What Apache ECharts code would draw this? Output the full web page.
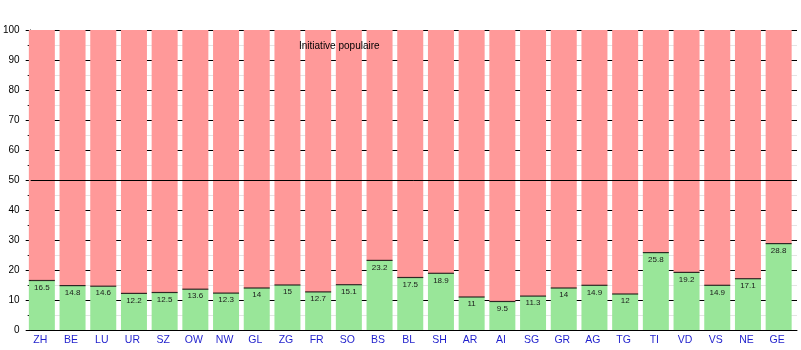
<!DOCTYPE html>
<html>
<head>
<meta charset="utf-8">
<script src="https://cdn.jsdelivr.net/npm/echarts@6/dist/echarts.min.js"></script>
<style>
  html, body { margin: 0; padding: 0; background: #fff; }
  #chart { width: 801px; height: 350px; }
</style>
</head>
<body>
<div id="chart"></div>
<script>
// Cantons and the "yes" share (%) for the popular initiative
const cantons = ['ZH','BE','LU','UR','SZ','OW','NW','GL','ZG','FR','SO','BS','BL','SH','AR','AI','SG','GR','AG','TG','TI','VD','VS','NE','GE'];
const yesShare = [16.5,14.8,14.6,12.2,12.5,13.6,12.3,14,15,12.7,15.1,23.2,17.5,18.9,11,9.5,11.3,14,14.9,12,25.8,19.2,14.9,17.1,28.8];
const noShare = yesShare.map(v => +(100 - v).toFixed(1));
const yTicks = [0,10,20,30,40,50,60,70,80,90,100];
const titleText = 'Initiative populaire';
const majority = 50;

const FONT = 'Liberation Sans, Arial, sans-serif';

const chart = echarts.init(document.getElementById('chart'), null, { renderer: 'canvas' });

chart.setOption({
  backgroundColor: '#ffffff',
  animation: false,
  title: {
    text: titleText,
    left: 299, top: 41, padding: 0,
    textStyle: { fontSize: 10, fontWeight: 'normal', color: '#000', fontFamily: FONT }
  },
  grid: [
    // bars
    { left: 26.5, right: 7, top: 30, bottom: 20 },
    // frame: axes, gridlines and majority line
    { left: 29, right: 4, top: 30, bottom: 20 }
  ],
  xAxis: [
    {
      type: 'category', gridIndex: 0, data: cantons,
      axisLine: { show: false }, axisTick: { show: false },
      axisLabel: { color: '#1f1fcc', fontSize: 10.5, fontFamily: FONT, margin: 5, padding: [0, 3, 0, 0] }
    },
    {
      type: 'value', gridIndex: 1, min: 0, max: 1,
      axisLine: { show: true, lineStyle: { color: '#000', width: 1 } },
      axisTick: { show: false }, axisLabel: { show: false }, splitLine: { show: false }
    }
  ],
  yAxis: [
    { type: 'value', gridIndex: 0, min: 0, max: 100, show: false, splitLine: { show: false } },
    {
      type: 'value', gridIndex: 1, min: yTicks[0], max: yTicks[yTicks.length - 1], interval: 10,
      axisLine: { show: true, lineStyle: { color: '#000', width: 1 } },
      axisTick: { show: true, length: 5, lineStyle: { color: '#000' } },
      minorTick: { show: true, splitNumber: 2, length: 3, lineStyle: { color: '#000' } },
      axisLabel: { color: '#000', fontSize: 10, fontFamily: FONT, margin: 11 },
      splitLine: { show: true, lineStyle: { color: '#000', width: 1 } },
      minorSplitLine: { show: true, lineStyle: { color: '#e4e4e4', width: 1 } }
    }
  ],
  series: [
    {
      name: 'Oui', type: 'bar', xAxisIndex: 0, yAxisIndex: 0, stack: 'vote',
      data: yesShare, barWidth: 26, z: 3,
      itemStyle: { color: '#99e699' },
      label: {
        show: true, position: 'insideTop', distance: 3,
        fontSize: 8, color: '#1a1a1a', fontFamily: FONT
      }
    },
    {
      name: 'Non', type: 'bar', xAxisIndex: 0, yAxisIndex: 0, stack: 'vote',
      data: noShare, barWidth: 26, z: 3,
      itemStyle: { color: '#ff9999' }
    },
    {
      // black edge on top of each "yes" segment
      name: 'edge', type: 'scatter', xAxisIndex: 0, yAxisIndex: 0,
      data: yesShare, symbol: 'rect', symbolSize: [26, 1.2], z: 5,
      itemStyle: { color: '#000' }, silent: true
    },
    {
      // majority line
      name: 'majority', type: 'line', xAxisIndex: 1, yAxisIndex: 1, data: [], z: 6,
      markLine: {
        silent: true, symbol: 'none', label: { show: false },
        lineStyle: { color: '#000', width: 1, type: 'solid' },
        data: [{ yAxis: majority }]
      }
    }
  ]
});
</script>
</body>
</html>
